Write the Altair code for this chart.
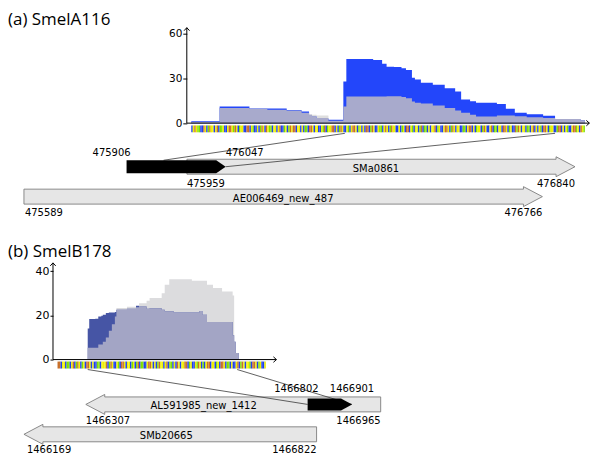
import altair as alt
import pandas as pd

W = 584
PX_PER_TRACK = 30.0

# ================= (a) SmelA116 =================
A_TITLE = "(a) SmelA116"
A_COV_POS = [475803, 475822, 475842, 475854, 475867, 475877, 475882, 475884, 475887,
             475895, 475905, 475907, 475925, 475931, 475934, 475939, 475944, 475947,
             475951, 475953, 475957, 475965, 475973, 475980, 475984, 475990, 475994,
             476008, 476014, 476020, 476028, 476039, 476047, 476064, 476067]
A_COV_BLUE = [1.3, 11.2, 9.9, 9.9, 8.6, 7.8, 5.0, 4.5, 3.0, 2.3, 28, 43.2, 42.5, 39.9,
              38, 37.8, 36.9, 35.8, 30.5, 29.3, 27.1, 25.8, 23.5, 21.3, 15.9, 14.8, 13.7,
              12.8, 9.7, 7.0, 6.0, 5.0, 2.7, 2.0]
A_COV_GRAY = [0.8, 10.1, 9.7, 9.0, 8.8, 7.4, 6.0, 5.6, 5.2, 1.6, 11.2, 17.9, 17.9, 17.9,
              18.0, 18.0, 17.5, 16.8, 14.6, 13.7, 13.2, 11.9, 10.1, 8.5, 7.0, 5.6, 4.5,
              5.2, 5.2, 4.7, 4.0, 3.4, 2.7, 2.0]
A_COV_PURPLE = [0.8, 10.1, 9.7, 9.0, 8.3, 7.0, 5.6, 4.7, 3.4, 1.6, 11.2, 17.9, 17.9, 17.9,
                18.0, 18.0, 17.5, 16.8, 14.6, 13.7, 13.2, 11.9, 10.1, 8.5, 7.0, 5.6, 4.5,
                5.2, 5.2, 4.7, 4.0, 3.4, 2.7, 2.0]
A_SEQ_START = 475803
A_SEQ_LEN = 264
A_SEQ = "".join([
    "GCTCAAGGTCGATCCGCTGAACGGCTTCATCGACCGGTTG",
    "CAGGCGATCGTCAAGCCGCTGGACGATCTTGCCGCGAAGT",
    "TCGCCGGCATGACCTTGCGATCGGCAGCTTCGACGCGTTG",
    "ATCGGCAAGCTCGATCCGGCGACGTTGCAGCCGATGAAGC",
    "GCCTGACGGCTTCGATCGCCGGAAGCTTGCGACCGATCGG",
    "CTGAAGCCGTTCGACGGTATCGCCGAAGCTGCGCAGTTCG",
    "ACCGGATTGCGCAGGCTTACGTCAAGGCTTATCGCCTGAC",
])
A_AXIS = [475800, 476070]
A_YTICKS = [0, 30, 60]
A_GENE_ID = ["SMa0861", "AE006469_new_487"]
A_GENE_START = [475959, 475589]
A_GENE_END = [476840, 476766]
A_GENE_STRAND = ["+", "+"]
A_GENE_TRACK = [0, 1]
A_LOCUS = [475822, 476047]          # black arrow as drawn
A_LINK_COV = [475906, 476047]
A_LINK_GENE = [475906, 476047]
A_LABEL_TEXT = ["475906", "476047", "475959", "476840", "SMa0861",
                "AE006469_new_487", "475589", "476766"]
A_LABEL_POS = [475822, 476047, 475959, 476840, 476399.5, 476177.5, 475589, 476766]
A_LABEL_TRACK = [0, 0, 0, 0, 0, 1, 1, 1]

# ================= (b) SmelB178 =================
B_TITLE = "(b) SmelB178"
B_COV_POS = [1466802, 1466803, 1466807, 1466809, 1466811, 1466812, 1466814, 1466816,
             1466818, 1466820, 1466821, 1466828, 1466834, 1466836, 1466841, 1466843,
             1466850, 1466851, 1466853, 1466856, 1466859, 1466871, 1466874, 1466876,
             1466878, 1466881, 1466885, 1466891, 1466898, 1466899, 1466900, 1466902]
B_COV_BLUE = [14.0, 18.3, 18.5, 19.5, 19.8, 20.3, 21.0, 21.3, 21.3, 21.5, 22.5, 23.0,
              24.3, 24.0, 23.0, 23.2, 23.2, 22.5, 21.8, 21.8, 21.3, 21.3, 21.3, 22.0,
              20.3, 17.0, 17.0, 17.0, 11.0, 8.0, 3.0]
B_COV_GRAY = [5.3, 5.3, 5.3, 6.8, 6.8, 8.0, 10.0, 13.0, 16.0, 19.5, 23.3, 23.9, 23.9,
              25.5, 26.6, 27.8, 27.8, 30.0, 33.8, 36.3, 36.3, 35.6, 35.6, 35.6, 35.6,
              33.8, 32.3, 30.8, 29.0, 0.0, 0.0]
B_COV_PURPLE = [5.3, 5.3, 5.3, 6.8, 6.8, 8.0, 10.0, 13.0, 16.0, 19.5, 22.5, 23.0, 23.7,
                24.0, 23.0, 23.2, 23.2, 22.5, 21.8, 21.8, 21.3, 21.3, 21.3, 22.0, 20.3,
                17.0, 17.0, 17.0, 11.0, 8.0, 3.0]
B_SEQ_START = 1466782
B_SEQ_LEN = 138
B_SEQ = "".join([
    "TTGCCGAAGCTGATCGACGTTCGCGGAAGCCCTGATCGGC",
    "AGTTCGCCGACGATGAAGGCTTCGCGATCCGCTGAAGCGT",
    "CGCCTTGACGGCATCGAGCTTGCCGACGTTCGAAGCGGCT",
    "GATCGCCAGTTCGACGGCTTGAAGCCGATCGTGCCGTTCA",
])
B_AXIS = [1466779, 1466927]
B_YTICKS = [0, 20, 40]
B_GENE_ID = ["AL591985_new_1412", "SMb20665"]
B_GENE_START = [1466307, 1466169]
B_GENE_END = [1466965, 1466822]
B_GENE_STRAND = ["-", "-"]
B_GENE_TRACK = [0, 1]
B_LOCUS = [1466802, 1466901]
B_LINK_COV = [1466802, 1466901]
B_LINK_GENE = [1466802, 1466901]
B_LABEL_TEXT = ["1466802", "1466901", "AL591985_new_1412", "1466307", "1466965",
                "SMb20665", "1466169", "1466822"]
B_LABEL_POS = [1466802, 1466901, 1466570, 1466307, 1466965, 1466495.5, 1466169, 1466822]
B_LABEL_TRACK = [0, 0, 0, 0, 0, 1, 1, 1]

# ================= layout / style =================
BASE_COLORS = {"A": "#80e000", "C": "#eef000", "G": "#2040ee", "T": "#c8702a"}
A_STYLE = dict(xdom=[475680.07, 476070.44], ydom=[-6.2, 64.2], height=105,
               strip=[-1.55, -6.2], colors=["#dedede", "#2346fa", "#a8aacc"],
               tick=4, lab=10.5, title_offset=-3)
B_STYLE = dict(xdom=[1466749.2, 1467134.7], ydom=[-4.05, 43.7], height=106,
               strip=[-0.9, -4.05], colors=["#dcdcde", "#4655a5", "#a3a5c5"],
               tick=3, lab=11, title_offset=0)
A_GSTYLE = dict(xdom=[475552.8, 476874.1], top_px=33.5, height=110, black_half=6.5,
                black_head=9.5, link_end_px=[-6.5, 0])
B_GSTYLE = dict(xdom=[1466133.4, 1467432.1], top_px=35, height=83, black_half=6.0,
                black_head=11, link_end_px=[0, 0])
A_LABEL_PLACE = [("right", 4, -10.5), ("left", 0, -10.5), ("left", 0, 20.5),
                 ("right", 0, 20.5), ("center", -5, 5.5), ("center", 0, 5),
                 ("left", 1, 19.5), ("right", 0, 19.5)]
B_LABEL_PLACE = [("right", 11, -12), ("center", 0, -12), ("center", 0, 4.5),
                 ("left", 0, 20), ("right", 0, 20), ("center", -4, 4.5),
                 ("left", 3, 18.5), ("right", 0, 18.5)]

UP = "M-1,1.1L0,0L1,1.1"
RIGHT = "M-1.1,-1L0,0L-1.1,1"
EPS = 0.01


def cov_panel(title, pos, gray, blue, purple, seq, seq_start, seq_len, axis_ext, yticks, st):
    df = pd.DataFrame({"pos": pos, "gray": gray + [gray[-1]],
                       "blue": blue + [blue[-1]], "purple": purple + [purple[-1]]})
    xs = alt.Scale(domain=st["xdom"], nice=False, zero=False)
    ys = alt.Scale(domain=st["ydom"], nice=False, zero=False)
    off = -(axis_ext[0] - st["xdom"][0]) / (st["xdom"][1] - st["xdom"][0]) * W
    yaxis = alt.Axis(values=yticks, offset=off, domain=False, grid=False, title=None,
                     tickSize=st["tick"], tickColor="black", tickWidth=1,
                     labelColor="black", labelFont="DejaVu Sans",
                     labelFontSize=st["lab"], labelPadding=1, minExtent=0)
    layers = []
    for field, col in zip(["gray", "blue", "purple"], st["colors"]):
        layers.append(alt.Chart(df).mark_area(color=col, interpolate="step-after", opacity=1).encode(
            x=alt.X("pos:Q", scale=xs, axis=None),
            y=alt.Y(f"{field}:Q", scale=ys, axis=yaxis, stack=None),
            y2=alt.datum(0)))
    sdf = pd.DataFrame({"pos": [seq_start + i for i in range(seq_len)],
                        "pos1": [seq_start + i + 1 for i in range(seq_len)],
                        "base": list(seq[:seq_len])})
    layers.append(alt.Chart(sdf).mark_rect().encode(
        x=alt.X("pos:Q", scale=xs, axis=None), x2="pos1:Q",
        y=alt.YDatum(st["strip"][0], scale=ys, axis=yaxis),
        y2=alt.datum(st["strip"][1]),
        color=alt.Color("base:N", scale=alt.Scale(domain=list(BASE_COLORS.keys()),
                                                  range=list(BASE_COLORS.values())),
                        legend=None)))
    adf = pd.DataFrame({"x0": [axis_ext[0], axis_ext[0]], "x1": [axis_ext[1], axis_ext[0]],
                        "y0": [0, 0], "y1": [0, st["ydom"][1]]})
    layers.append(alt.Chart(adf).mark_rule(color="black", strokeWidth=1).encode(
        x=alt.X("x0:Q", scale=xs, axis=None), x2="x1:Q",
        y=alt.Y("y0:Q", scale=ys, axis=yaxis), y2="y1:Q"))
    for shape, xv, yv in [(UP, axis_ext[0], st["ydom"][1]), (RIGHT, axis_ext[1], 0)]:
        pdf = pd.DataFrame({"x": [xv], "y": [yv]})
        layers.append(alt.Chart(pdf).mark_point(shape=shape, size=30, filled=False,
                                                color="black", strokeWidth=1, opacity=1).encode(
            x=alt.X("x:Q", scale=xs, axis=None), y=alt.Y("y:Q", scale=ys, axis=yaxis)))
    return alt.layer(*layers).properties(
        width=W, height=st["height"],
        title=alt.Title(title, anchor="start", font="Open Sans", fontSize=17,
                        fontWeight="normal", color="black",
                        offset=st["title_offset"]))


def arrow_df(s, e, sd, t, hb, hh, hl):
    if sd == "+":
        pts = [(s, t - hb, t + hb), (e - hl, t - hb, t + hb),
               (e - hl + EPS, t - hh, t + hh), (e, t, t)]
    else:
        pts = [(s, t, t), (s + hl, t - hh, t + hh),
               (s + hl + EPS, t - hb, t + hb), (e, t - hb, t + hb)]
    return pd.DataFrame({"x": [p[0] for p in pts], "y0": [p[1] for p in pts],
                         "y1": [p[2] for p in pts]})


def gene_panel(ids, starts, ends, strands, tracks, locus, link_cov, link_gene,
               ltext, lpos, ltrack, lplace, cov_xdom, gs):
    xd = gs["xdom"]
    ylo = -gs["top_px"] / PX_PER_TRACK
    yhi = (gs["height"] - gs["top_px"]) / PX_PER_TRACK
    xs = alt.Scale(domain=xd, nice=False, zero=False)
    ys = alt.Scale(domain=[ylo, yhi], nice=False, zero=False, reverse=True)
    bp_px = (xd[1] - xd[0]) / W
    u = 1 / PX_PER_TRACK
    X = lambda f: alt.X(f, scale=xs, axis=None)
    Y = lambda f: alt.Y(f, scale=ys, axis=None, stack=None)
    layers = []
    for gid, s, e, sd, t in zip(ids, starts, ends, strands, tracks):
        gdf = arrow_df(s, e, sd, t, 7.5 * u, 10 * u, 19 * bp_px)
        layers.append(alt.Chart(gdf).mark_area(fill="#e6e6e6", stroke="#7d7d7d",
                                               strokeWidth=0.9, interpolate="linear",
                                               opacity=1).encode(
            x=X("x:Q"), y=Y("y0:Q"), y2="y1:Q"))
    # connector lines from the sequence strip to the locus
    cspan = cov_xdom[1] - cov_xdom[0]
    top_x = [xd[0] + (c - cov_xdom[0]) / cspan * (xd[1] - xd[0]) for c in link_cov]
    ldf = pd.DataFrame({"xt": top_x, "yt": [ylo] * len(top_x), "xb": link_gene,
                        "yb": [tracks[0] + p * u for p in gs["link_end_px"]]})
    layers.append(alt.Chart(ldf).mark_rule(color="#3a3a3a", strokeWidth=0.8).encode(
        x=X("xt:Q"), y=Y("yt:Q"), x2="xb:Q", y2="yb:Q"))
    bdf = arrow_df(locus[0], locus[1], "+", tracks[0],
                   gs["black_half"] * u, gs["black_half"] * u, gs["black_head"] * bp_px)
    layers.append(alt.Chart(bdf).mark_area(fill="black", interpolate="linear", opacity=1).encode(
        x=X("x:Q"), y=Y("y0:Q"), y2="y1:Q"))
    for t, p, tr, (al, dx, dy) in zip(ltext, lpos, ltrack, lplace):
        tdf = pd.DataFrame({"text": [t], "pos": [p], "track": [tr]})
        layers.append(alt.Chart(tdf).mark_text(align=al, dx=dx, dy=dy, baseline="alphabetic",
                                               font="DejaVu Sans", fontSize=10,
                                               color="black").encode(
            x=X("pos:Q"), y=Y("track:Q"), text="text:N"))
    return alt.layer(*layers).properties(width=W, height=gs["height"])


a1 = cov_panel(A_TITLE, A_COV_POS, A_COV_GRAY, A_COV_BLUE, A_COV_PURPLE, A_SEQ,
               A_SEQ_START, A_SEQ_LEN, A_AXIS, A_YTICKS, A_STYLE)
a2 = gene_panel(A_GENE_ID, A_GENE_START, A_GENE_END, A_GENE_STRAND, A_GENE_TRACK, A_LOCUS,
                A_LINK_COV, A_LINK_GENE, A_LABEL_TEXT, A_LABEL_POS, A_LABEL_TRACK,
                A_LABEL_PLACE, A_STYLE["xdom"], A_GSTYLE)
b1 = cov_panel(B_TITLE, B_COV_POS, B_COV_GRAY, B_COV_BLUE, B_COV_PURPLE, B_SEQ,
               B_SEQ_START, B_SEQ_LEN, B_AXIS, B_YTICKS, B_STYLE)
b2 = gene_panel(B_GENE_ID, B_GENE_START, B_GENE_END, B_GENE_STRAND, B_GENE_TRACK, B_LOCUS,
                B_LINK_COV, B_LINK_GENE, B_LABEL_TEXT, B_LABEL_POS, B_LABEL_TRACK,
                B_LABEL_PLACE, B_STYLE["xdom"], B_GSTYLE)

chart = alt.vconcat(a1, a2, b1, b2, spacing=0,
                    padding={"top": 2, "left": 0, "right": 0, "bottom": 0},
                    background="white").configure_view(stroke=None)

chart.save("out.html", embed_options={"renderer": "svg", "actions": False})
